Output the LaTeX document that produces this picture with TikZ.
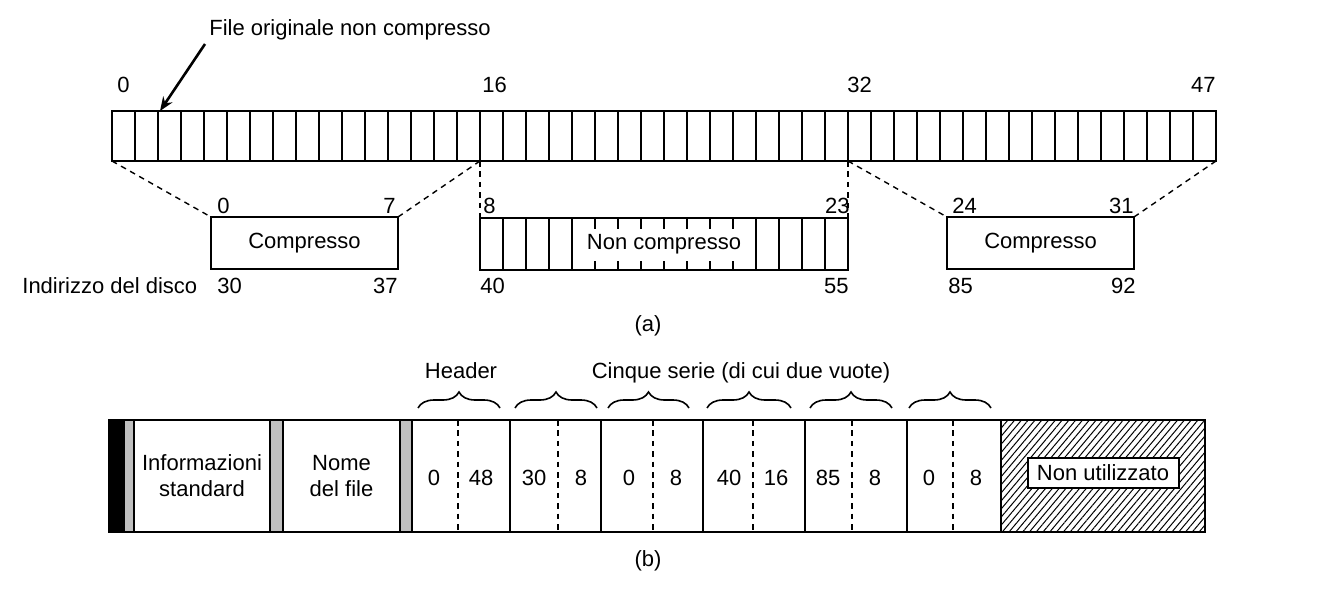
\documentclass[tikz,border=0pt]{standalone}
\usepackage{fontspec}
\setmainfont{Liberation Sans}
\usetikzlibrary{arrows.meta,positioning,calc,patterns.meta,decorations.pathreplacing}
\tikzstyle{recNode} = [rectangle, draw=black, line width=1pt, inner sep=0pt, outer sep=0pt, anchor=north west, minimum height=26pt, align=center]
\tikzstyle{stripNode} = [recNode, minimum width=552pt, minimum height=25pt]
\tikzstyle{compNode} = [recNode, minimum width=93.5pt]
\tikzstyle{barCell} = [recNode, minimum height=56pt]
\tikzstyle{greyBar} = [recNode, fill=black!25, line width=0.8pt, minimum height=56pt]
\tikzstyle{lblW} = [inner sep=0pt, anchor=base west]
\tikzstyle{lblE} = [inner sep=0pt, anchor=base east]
\tikzstyle{lblC} = [inner sep=0pt, anchor=base]
\tikzstyle{cellLine} = [line width=0.8pt]
\tikzstyle{dashLine} = [line width=0.7pt, dash pattern=on 2.8pt off 2.4pt]
\tikzstyle{arrowK} = [line width=1.3pt, -{Stealth[length=7pt,width=5.5pt]}]
\tikzstyle{braceK} = [line width=0.8pt, decorate, decoration={brace, amplitude=8pt}]

\begin{document}
\begin{tikzpicture}[x=0.5pt, y=-0.5pt, font=\fontsize{11}{13}\selectfont]
    \useasboundingbox (0,0) rectangle (1342,610);

    % (a) file non compresso
    \node (strip) [stripNode] at (112,111) {};
    \foreach \i in {1,...,47}
        \draw [cellLine] ($(strip.north west)+(23*\i,0)$) -- ($(strip.south west)+(23*\i,0)$);
    \coordinate (s16) at ($(strip.south west)+(368,0)$);
    \coordinate (s32) at ($(strip.south west)+(736,0)$);
    \coordinate (tip) at ($(strip.north west)+(48,0)$);

    \node (t0) [lblW] at (117,92) {0};
    \node (t16) [lblW] at (482,92) {16};
    \node (t32) [lblW] at (847,92) {32};
    \node (t47) [lblE] at (1216,92) {47};

    \node (orig) [lblW] at (209,36) {File originale non compresso};
    \draw [arrowK] ([shift={(-4,8)}]orig.base west) -- (tip);

    \node (comp1) [compNode] at (211,217) {Compresso};
    \node (nc) [recNode, minimum width=184pt] at (480,218) {Non compresso};
    \foreach \i in {1,2,3,4,12,13,14,15}
        \draw [cellLine] ($(nc.north west)+(23*\i,0)$) -- ($(nc.south west)+(23*\i,0)$);
    \foreach \i in {5,...,11} {
        \draw [cellLine] ($(nc.north west)+(23*\i,0)$) -- ++(0,11);
        \draw [cellLine] ($(nc.south west)+(23*\i,0)$) -- ++(0,-9);
    }
    \node (comp2) [compNode] at (947,217) {Compresso};

    \draw [dashLine] (strip.south west) -- (comp1.north west);
    \draw [dashLine] (s16) -- (comp1.north east);
    \draw [dashLine] (s16) -- (nc.north west);
    \draw [dashLine] (s32) -- (nc.north east);
    \draw [dashLine] (s32) -- (comp2.north west);
    \draw [dashLine] (strip.south east) -- (comp2.north east);

    \node (a0) [lblW] at (217,213) {0};
    \node (a7) [lblE] at (396,213) {7};
    \node (a8) [lblW] at (483,213) {8};
    \node (a23) [lblE] at (850,213) {23};
    \node (a24) [lblW] at (952,213) {24};
    \node (a31) [lblE] at (1134,213) {31};

    \node (disk) [lblW] at (22,293) {Indirizzo del disco};
    \node (d30) [lblW] at (217,293) {30};
    \node (d37) [lblE] at (398,293) {37};
    \node (d40) [lblW] at (480,293) {40};
    \node (d55) [lblE] at (849,293) {55};
    \node (d85) [lblW] at (948,293) {85};
    \node (d92) [lblE] at (1136,293) {92};
    \node (capA) [lblC] at (648,331) {(a)};

    % (b) record MFT
    \node (blk) [recNode, fill=black, minimum width=7.5pt, minimum height=56pt] at (109,420) {};
    \node (g1) [greyBar, minimum width=5pt] at (blk.north east) {};
    \node (info) [barCell, minimum width=68pt] at (g1.north east) {Informazioni\\standard};
    \node (g2) [greyBar, minimum width=6.5pt] at (info.north east) {};
    \node (nome) [barCell, minimum width=58.5pt] at (g2.north east) {Nome\\del file};
    \node (g3) [greyBar, minimum width=6pt] at (nome.north east) {};
    \node (h0) [barCell, minimum width=49pt] at (g3.north east) {};
    \node (r1) [barCell, minimum width=45.5pt] at (h0.north east) {};
    \node (r2) [barCell, minimum width=51pt] at (r1.north east) {};
    \node (r3) [barCell, minimum width=51pt] at (r2.north east) {};
    \node (r4) [barCell, minimum width=51pt] at (r3.north east) {};
    \node (r5) [barCell, minimum width=47pt] at (r4.north east) {};
    \node (unused) [barCell, minimum width=102pt, pattern={Lines[angle=50,distance=2.6pt,line width=0.5pt]}] at (r5.north east) {};
    \node (nonutil) [rectangle, draw=black, line width=1pt, fill=white, inner sep=0pt, minimum width=75.5pt, minimum height=15pt] at ([yshift=1.5pt]unused.center) {Non utilizzato};
    \draw [line width=1.1pt] (blk.north west) rectangle (unused.south east);

    \foreach \c/\d/\a/\b in {h0/46/0/48, r1/48/30/8, r2/52/0/8, r3/50/40/16, r4/47/85/8, r5/46/0/8} {
        \draw [dashLine] ($(\c.north west)+(\d,0)$) -- ($(\c.south west)+(\d,0)$);
        \node (\c-a) [lblC] at ($(\c.north west)+(\d-24,65)$) {\a};
        \node (\c-b) [lblC] at ($(\c.north west)+(\d+23,65)$) {\b};
    }

    \foreach \c/\a/\b in {h0/6/10, r1/5/4, r2/7/14, r3/4/14, r4/5/15, r5/2/10}
        \draw [braceK] ($(\c.north west)+(\a,-12)$) -- ($(\c.north east)+(-\b,-12)$);

    \node (hdr) [lblC] at (461,378) {Header};
    \node (cinque) [lblC] at (741,378) {Cinque serie (di cui due vuote)};
    \node (capB) [lblC] at (648,566) {(b)};
\end{tikzpicture}
\end{document}
